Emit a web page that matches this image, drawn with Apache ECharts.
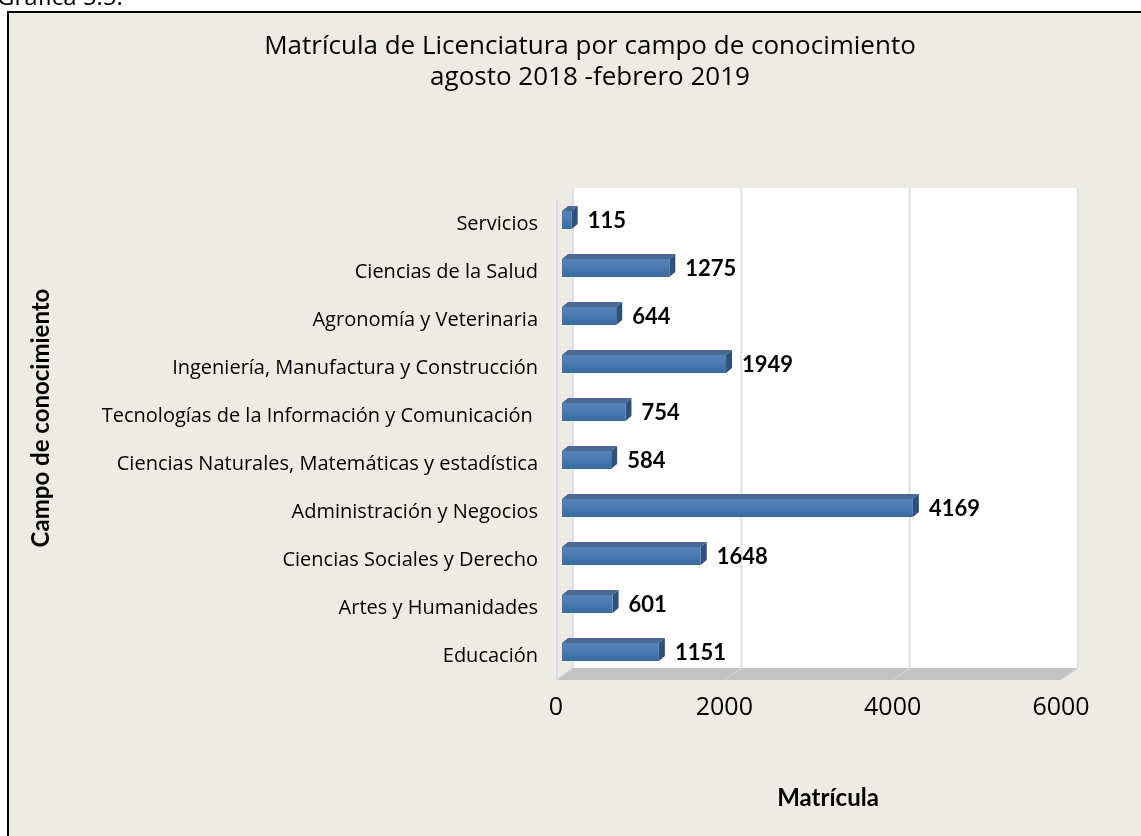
<!DOCTYPE html>
<html>
<head>
<meta charset="utf-8">
<script src="https://cdn.jsdelivr.net/npm/echarts@6/dist/echarts.min.js"></script>
<style>
  html, body { margin: 0; padding: 0; background: #ffffff; }
  #chart { width: 1141px; height: 836px; }
</style>
</head>
<body>
<div id="chart"></div>
<script>
// Enrolment by field of knowledge, listed bottom to top as on the axis
const categories = [
  'Educación',
  'Artes y Humanidades',
  'Ciencias Sociales y Derecho',
  'Administración y Negocios',
  'Ciencias Naturales, Matemáticas y estadística',
  'Tecnologías de la Información y Comunicación ',
  'Ingeniería, Manufactura y Construcción',
  'Agronomía y Veterinaria',
  'Ciencias de la Salud',
  'Servicios'
];
const enrolment = [1151, 601, 1648, 4169, 584, 754, 1949, 644, 1275, 115];
const xTicks = [0, 2000, 4000, 6000];

const titleLines = ['Matrícula de Licenciatura por campo de conocimiento', 'agosto 2018 -febrero 2019'];
const xName = 'Matrícula';
const yName = 'Campo de conocimiento';
const captionText = 'Gráfica 5.5.';

const FONT = '"Open Sans", "Noto Sans", sans-serif';
const BOLD_FONT = 'Lato, "Open Sans", sans-serif';
// depth of the 3-D box (back wall shifted right and up)
const DX = 17, DY = 12;
// depth of each bar
const BDX = 6, BDY = 5;

const chart = echarts.init(document.getElementById('chart'), null, { renderer: 'canvas' });

// back wall, left edge, floor and gridlines of the pseudo 3-D box
function renderBox(params, api) {
  const cs = params.coordSys;
  const x0 = cs.x, y0 = cs.y, x1 = cs.x + cs.width, y1 = cs.y + cs.height;
  const children = [];
  children.push({
    type: 'rect',
    shape: { x: x0 + DX, y: y0 - DY, width: cs.width, height: cs.height },
    style: { fill: '#ffffff' }
  });
  children.push({
    type: 'polygon',
    shape: { points: [[x0, y1], [x1, y1], [x1 + DX, y1 - DY], [x0 + DX, y1 - DY]] },
    style: { fill: '#c3c3c3' }
  });
  children.push({
    type: 'line',
    shape: { x1: x0 + 1, y1: y0, x2: x0 + 1, y2: y1 },
    style: { stroke: '#d9dce5', lineWidth: 2 }
  });
  xTicks.forEach(function (t) {
    const p = api.coord([t, 0]);
    children.push({
      type: 'line',
      shape: { x1: p[0] + DX, y1: y0 - DY, x2: p[0] + DX, y2: y1 - DY },
      style: { stroke: '#dfe1ea', lineWidth: 2 }
    });
    children.push({
      type: 'line',
      shape: { x1: p[0], y1: y1, x2: p[0] + DX, y2: y1 - DY },
      style: { stroke: '#d8d8d8', lineWidth: 1 }
    });
  });
  return { type: 'group', children: children };
}

// one extruded bar per category plus its value label
function renderBar(params, api) {
  const v = api.value(0);
  const c = api.value(1);
  const start = api.coord([0, c]);
  const end = api.coord([v, c]);
  const band = api.size([0, 1])[1];
  const h = band * 0.375;
  const xa = start[0] + 6;
  const xb = end[0] + 6;
  const yc = start[1] - 4;
  const yt = yc - h / 2, yb = yc + h / 2;
  return {
    type: 'group',
    children: [
      {
        type: 'polygon',
        shape: { points: [[xa, yt], [xb, yt], [xb + BDX, yt - BDY], [xa + BDX, yt - BDY]] },
        style: { fill: '#4b6a93' }
      },
      {
        type: 'polygon',
        shape: { points: [[xb, yt], [xb + BDX, yt - BDY], [xb + BDX, yb - BDY], [xb, yb]] },
        style: { fill: '#2f5079' }
      },
      {
        type: 'rect',
        shape: { x: xa, y: yt, width: xb - xa, height: h },
        style: {
          fill: new echarts.graphic.LinearGradient(0, 0, 0, 1, [
            { offset: 0, color: '#5483bb' },
            { offset: 0.45, color: '#4a7ab3' },
            { offset: 1, color: '#3a6aa1' }
          ])
        }
      },
      {
        type: 'text',
        style: {
          x: xb + 16, y: yc + 1,
          text: String(v),
          fill: '#000000',
          fontSize: 22,
          fontWeight: 'bold',
          fontFamily: BOLD_FONT,
          verticalAlign: 'middle',
          align: 'left'
        }
      }
    ]
  };
}

chart.setOption({
  backgroundColor: 'transparent',
  animation: false,
  graphic: [
    {
      type: 'rect', z: -10,
      shape: { x: 8, y: 12, width: 1200, height: 900 },
      style: { fill: '#eeebe5', stroke: '#000000', lineWidth: 2 }
    },
    {
      type: 'text', x: -3, y: -2, z: -20,
      style: { text: captionText, fontSize: 24, fontFamily: FONT, fill: '#000000', verticalAlign: 'middle' }
    },
    {
      type: 'text', x: 590, y: 47,
      style: { text: titleLines[0], fontSize: 26, fontFamily: FONT, fill: '#000000', align: 'center', verticalAlign: 'middle' }
    },
    {
      type: 'text', x: 590, y: 78,
      style: { text: titleLines[1], fontSize: 26, fontFamily: FONT, fill: '#000000', align: 'center', verticalAlign: 'middle' }
    }
  ],
  grid: { left: 556, right: 80, top: 200, bottom: 156, containLabel: false },
  xAxis: {
    type: 'value',
    min: 0, max: 6000, interval: 2000,
    axisLine: { show: false },
    axisTick: { show: false },
    splitLine: { show: false },
    axisLabel: {
      margin: 15, color: '#000000', fontSize: 25, fontFamily: FONT,
      formatter: function (v) { return String(v); }
    },
    name: xName,
    nameLocation: 'middle',
    nameGap: 106,
    nameTextStyle: { color: '#000000', fontSize: 24, fontWeight: 'bold', fontFamily: BOLD_FONT, padding: [0, 0, 0, 39] }
  },
  yAxis: {
    type: 'category',
    data: categories,
    axisLine: { show: false },
    axisTick: { show: false },
    splitLine: { show: false },
    axisLabel: { margin: 18, color: '#000000', fontSize: 20, fontFamily: FONT },
    name: yName,
    nameLocation: 'middle',
    nameGap: 503,
    nameRotate: 90,
    nameTextStyle: { color: '#000000', fontSize: 24, fontWeight: 'bold', fontFamily: BOLD_FONT, padding: [0, 0, 0, 44] }
  },
  series: [
    {
      type: 'custom',
      name: 'box',
      renderItem: renderBox,
      data: [[0, 0]],
      silent: true,
      z: 1
    },
    {
      type: 'custom',
      name: xName,
      renderItem: renderBar,
      encode: { x: 0, y: 1 },
      data: enrolment.map(function (v, i) { return [v, i]; }),
      z: 2
    }
  ]
});
</script>
</body>
</html>
